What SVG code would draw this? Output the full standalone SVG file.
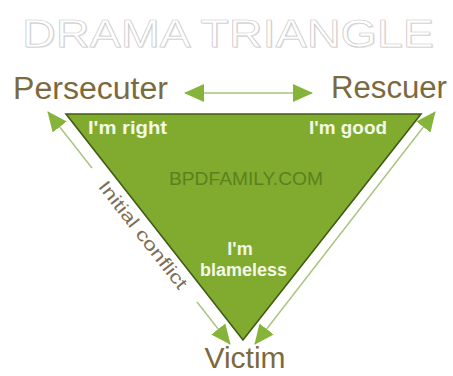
<svg xmlns="http://www.w3.org/2000/svg" width="453" height="376" viewBox="0 0 453 376">
  <style>
    .title { font-family: "Liberation Sans", Arial, sans-serif; font-size: 38px; fill: #ffffff; stroke: #c6c6c6; stroke-width: 0.6; }
    .title-shadow { font-family: "Liberation Sans", Arial, sans-serif; font-size: 38px; fill: #e2e2e2; }
    .role { font-family: "Liberation Sans", Arial, sans-serif; font-size: 31px; fill: #7b6a3e; }
    .inner { font-family: "Liberation Sans", Arial, sans-serif; font-size: 18px; font-weight: bold; fill: #f4f8e8; }
    .brand { font-family: "Liberation Sans", Arial, sans-serif; font-size: 18.5px; fill: #557a1c; opacity: 0.85; }
    .note { font-family: "Liberation Sans", Arial, sans-serif; font-size: 18px; fill: #7d6e55; }
    .conn { stroke: #a9c27e; stroke-width: 1.4; fill: none; }
  </style>
  <defs>
    <marker id="head" viewBox="0 0 20 18" refX="19" refY="9" markerWidth="20" markerHeight="18" markerUnits="userSpaceOnUse" orient="auto-start-reverse">
      <path d="M0,0 L20,9 L0,18 z" fill="#86b43a"/>
    </marker>
  </defs>
  <rect width="453" height="376" fill="#ffffff"/>

  <g id="title">
    <text class="title-shadow" x="23" y="48" textLength="412" lengthAdjust="spacingAndGlyphs">DRAMA TRIANGLE</text>
    <text class="title" x="22" y="47" textLength="412" lengthAdjust="spacingAndGlyphs">DRAMA TRIANGLE</text>
  </g>

  <g id="triangle">
    <polygon points="66,114 421,114 243,340" fill="#80ab2f" stroke="#3f5c16" stroke-width="1.6" stroke-linejoin="miter"/>
    <text class="inner" x="88" y="134" textLength="79" lengthAdjust="spacingAndGlyphs">I'm right</text>
    <text class="inner" x="309" y="134" textLength="78" lengthAdjust="spacingAndGlyphs">I'm good</text>
    <text class="brand" x="169" y="185" textLength="154" lengthAdjust="spacingAndGlyphs">BPDFAMILY.COM</text>
    <text class="inner" x="240" y="255" text-anchor="middle">I'm</text>
    <text class="inner" x="200" y="276" textLength="87" lengthAdjust="spacingAndGlyphs">blameless</text>
  </g>

  <g id="persecuter">
    <text class="role" x="13" y="99" textLength="155" lengthAdjust="spacingAndGlyphs">Persecuter</text>
  </g>
  <g id="rescuer">
    <text class="role" x="331" y="98" textLength="116" lengthAdjust="spacingAndGlyphs">Rescuer</text>
  </g>
  <g id="victim">
    <text class="role" x="245" y="368" text-anchor="middle" style="font-size:30px">Victim</text>
  </g>

  <g id="connectors">
    <line class="conn" x1="185" y1="93" x2="312" y2="93" marker-start="url(#head)" marker-end="url(#head)"/>
    <line class="conn" x1="48" y1="112" x2="92" y2="168" marker-start="url(#head)"/>
    <line class="conn" x1="197" y1="302" x2="230" y2="344" marker-end="url(#head)"/>
    <line class="conn" x1="435" y1="112" x2="255" y2="344" marker-start="url(#head)" marker-end="url(#head)"/>
    <text class="note" transform="translate(143,235) rotate(51.9)" x="0" y="6" text-anchor="middle" textLength="132" lengthAdjust="spacingAndGlyphs">Initial conflict</text>
  </g>
</svg>
